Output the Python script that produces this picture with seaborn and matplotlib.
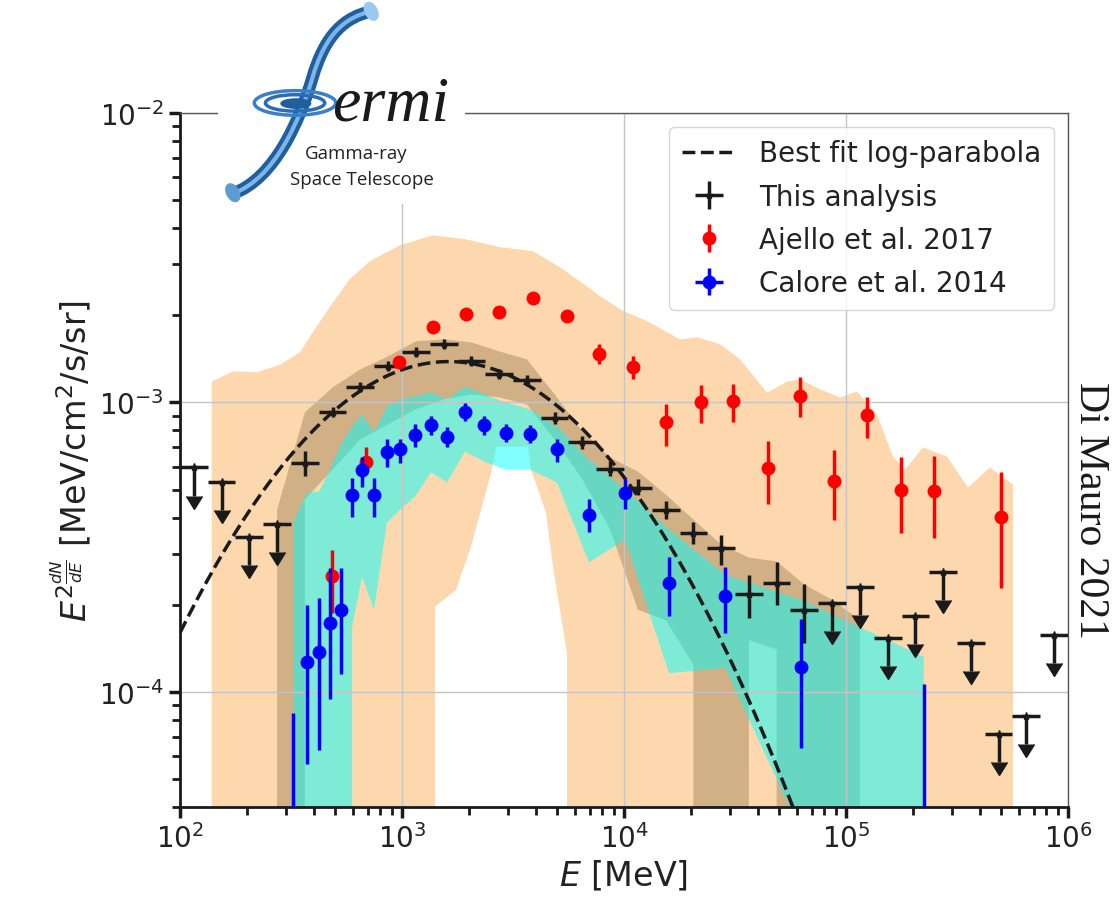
"""
Galactic Center excess spectrum: this analysis compared with Ajello et al. 2017
and Calore et al. 2014, with their systematic bands and the best-fit log-parabola.
"""
import numpy as np
import matplotlib
matplotlib.use("Agg")
import matplotlib.pyplot as plt
from matplotlib.patches import Rectangle, Ellipse, PathPatch
from matplotlib.path import Path
import seaborn as sns

# ---------------- this analysis ----------------
# energy bin edges [MeV]
bin_edges = np.array([100, 133.4, 177.8, 237.1, 316.2, 421.7, 562.3, 749.9, 1000, 1333.5,
                      1778.3, 2371.4, 3162.3, 4217, 5623.4, 7498.9, 10000, 13335, 17783,
                      23714, 31623, 42170, 56234, 74989, 100000, 133352, 177828, 237137,
                      316228, 421697, 562341, 749894, 1000000])

# detected bins
det_idx = list(range(4, 23))
det_flux = np.array([6.20e-4, 9.24e-4, 1.127e-3, 1.332e-3, 1.489e-3, 1.588e-3, 1.386e-3,
                     1.250e-3, 1.191e-3, 8.81e-4, 7.27e-4, 5.91e-4, 5.08e-4, 4.26e-4,
                     3.55e-4, 3.13e-4, 2.17e-4, 2.38e-4, 1.92e-4])
det_low = np.array([5.55e-4, 8.87e-4, 1.083e-3, 1.280e-3, 1.431e-3, 1.526e-3, 1.332e-3,
                    1.201e-3, 1.145e-3, 8.39e-4, 6.93e-4, 5.59e-4, 4.77e-4, 3.97e-4,
                    3.23e-4, 2.75e-4, 1.80e-4, 2.00e-4, 1.48e-4])
det_high = np.array([6.77e-4, 9.61e-4, 1.173e-3, 1.386e-3, 1.550e-3, 1.652e-3, 1.443e-3,
                     1.300e-3, 1.240e-3, 9.24e-4, 7.63e-4, 6.25e-4, 5.42e-4, 4.58e-4,
                     3.87e-4, 3.47e-4, 2.54e-4, 2.80e-4, 2.35e-4])

# upper limits
ul_idx = [0, 1, 2, 3, 23, 24, 25, 26, 27, 28, 29, 30, 31]
ul_flux = np.array([5.96e-4, 5.33e-4, 3.44e-4, 3.81e-4, 2.03e-4, 2.31e-4, 1.54e-4,
                    1.83e-4, 2.60e-4, 1.48e-4, 7.16e-5, 8.26e-5, 1.575e-4])

# systematic band of this analysis, bins 3..24
band_idx = list(range(3, 25))
band_hi = np.array([4.26e-4, 9.24e-4, 1.127e-3, 1.300e-3, 1.443e-3, 1.626e-3, 1.652e-3,
                    1.613e-3, 1.501e-3, 1.409e-3, 1.066e-3, 7.94e-4, 6.45e-4, 5.77e-4,
                    4.81e-4, 3.94e-4, 3.23e-4, 2.91e-4, 2.82e-4, 2.35e-4, 2.08e-4, 1.77e-4])
band_lo = np.array([0, 4.62e-4, 5.86e-4, 7.45e-4, 8.39e-4, 9.46e-4, 1.024e-3, 1.066e-3,
                    1.041e-3, 9.84e-4, 7.45e-4, 5.42e-4, 3.64e-4, 1.92e-4, 1.77e-4,
                    1.24e-4, 0, 1.51e-4, 1.40e-4, 0, 0, 0])

# best-fit log-parabola (peak energy, peak flux, curvature in log10)
fit_peak_E = 1622.0
fit_peak_flux = 1.384e-3
fit_beta = 0.64

# ---------------- Ajello et al. 2017 ----------------
aj_E = np.array([484, 688, 969, 1379, 1943, 2735, 3891, 5536, 7717, 10980, 15460, 22230,
                 30970, 44530, 62060, 88300, 124300, 176900, 249200, 499100])
aj_flux = np.array([2.520e-4, 6.249e-4, 1.375e-3, 1.818e-3, 2.016e-3, 2.048e-3, 2.291e-3,
                    1.984e-3, 1.466e-3, 1.322e-3, 8.526e-4, 1.000e-3, 1.008e-3, 5.957e-4,
                    1.049e-3, 5.372e-4, 9.017e-4, 5.000e-4, 4.960e-4, 4.031e-4])
aj_low = np.array([1.877e-4, 5.727e-4, 1.322e-3, 1.761e-3, 1.953e-3, 1.984e-3, 2.218e-3,
                   1.906e-3, 1.354e-3, 1.201e-3, 7.043e-4, 8.459e-4, 8.526e-4, 4.472e-4,
                   8.872e-4, 3.935e-4, 7.506e-4, 3.549e-4, 3.410e-4, 2.290e-4])
aj_high = np.array([3.100e-4, 6.988e-4, 1.431e-3, 1.877e-3, 2.081e-3, 2.115e-3, 2.365e-3,
                    2.065e-3, 1.588e-3, 1.443e-3, 9.842e-4, 1.145e-3, 1.154e-3, 7.329e-4,
                    1.220e-3, 6.822e-4, 1.041e-3, 6.502e-4, 6.555e-4, 5.727e-4])

# Ajello band: upper edge and lower edge (0 = no lower bound)
aj_band_E_up = np.array([139, 173, 222, 282, 347, 397, 489, 583, 718, 980, 1379, 1943, 2763,
                         3891, 5148, 6338, 7797, 9897, 12690, 17880, 21330, 27060, 33310,
                         44070, 54240, 62060, 76360, 93970, 112100, 137900, 162800, 184400,
                         222300, 285100, 354400, 445400, 565300])
aj_band_up = np.array([1.18e-3, 1.28e-3, 1.27e-3, 1.35e-3, 1.49e-3, 1.75e-3, 2.22e-3, 2.67e-3,
                       3.08e-3, 3.49e-3, 3.78e-3, 3.66e-3, 3.44e-3, 3.33e-3, 2.93e-3, 2.62e-3,
                       2.33e-3, 2.07e-3, 1.91e-3, 1.65e-3, 1.68e-3, 1.59e-3, 1.41e-3, 1.08e-3,
                       1.18e-3, 1.20e-3, 1.11e-3, 1.04e-3, 1.09e-3, 9.09e-4, 6.50e-4, 5.86e-4,
                       6.99e-4, 6.50e-4, 5.08e-4, 5.96e-4, 5.20e-4])
aj_band_E_low = np.array([139, 1351, 1408, 1751, 2046, 2543, 2651, 3695, 3812, 4453, 4788,
                          5536, 5771, 565300])
aj_band_low = np.array([0, 0, 1.97e-4, 2.25e-4, 3.18e-4, 5.86e-4, 7.04e-4, 7.04e-4, 5.86e-4,
                        4.16e-4, 2.71e-4, 1.36e-4, 0, 0])

# ---------------- Calore et al. 2014 ----------------
cal_E = np.array([323, 373, 423, 474, 531, 596, 661, 748, 855, 979, 1144, 1351, 1596, 1923,
                  2341, 2940, 3773, 4993, 6954, 10110, 15950, 28520, 62640, 224400])
cal_flux = np.array([1.0e-5, 1.27e-4, 1.375e-4, 1.733e-4, 1.922e-4, 4.805e-4, 5.818e-4,
                     4.805e-4, 6.714e-4, 6.879e-4, 7.690e-4, 8.325e-4, 7.566e-4, 9.235e-4,
                     8.325e-4, 7.813e-4, 7.750e-4, 6.879e-4, 4.097e-4, 4.883e-4, 2.383e-4,
                     2.149e-4, 1.220e-4, 1.0e-5])
cal_low = np.array([5e-6, 5.633e-5, 6.299e-5, 9.459e-5, 1.154e-4, 4.031e-4, 5.122e-4,
                    4.031e-4, 6.004e-4, 6.200e-4, 6.988e-4, 7.690e-4, 6.988e-4, 8.596e-4,
                    7.690e-4, 7.271e-4, 7.214e-4, 6.249e-4, 3.578e-4, 4.297e-4, 1.832e-4,
                    1.600e-4, 6.400e-5, 5e-6])
cal_high = np.array([8.46e-5, 2.0e-4, 2.114e-4, 2.686e-4, 2.686e-4, 5.501e-4, 6.502e-4,
                     5.501e-4, 7.447e-4, 7.447e-4, 8.393e-4, 8.945e-4, 8.193e-4, 9.920e-4,
                     8.945e-4, 8.393e-4, 8.325e-4, 7.447e-4, 4.654e-4, 5.416e-4, 2.931e-4,
                     2.707e-4, 1.789e-4, 1.066e-4])
cal_band_hi = np.array([3.84e-4, 4.88e-4, 4.92e-4, 5.86e-4, 7.16e-4, 8.26e-4, 9.09e-4,
                        7.88e-4, 9.69e-4, 1.024e-3, 1.049e-3, 1.083e-3, 1.024e-3, 1.136e-3,
                        1.066e-3, 1.0e-3, 9.46e-4, 8.26e-4, 6.35e-4, 5.0e-4, 3.64e-4,
                        2.54e-4, 2.08e-4, 1.32e-4])
cal_band_lo = np.array([0, 0, 0, 0, 0, 1.68e-4, 2.50e-4, 1.92e-4, 3.84e-4, 4.26e-4, 4.73e-4,
                        5.73e-4, 5.29e-4, 6.77e-4, 6.25e-4, 5.86e-4, 5.86e-4, 5.29e-4,
                        2.80e-4, 3.36e-4, 1.16e-4, 1.21e-4, 3.3e-5, 0])

# ---------------- plot ----------------
sns.set_theme(style="whitegrid", rc={"grid.color": "#c4c4c4", "grid.linewidth": 1.0,
                                     "text.color": "#222222", "axes.labelcolor": "#222222",
                                     "xtick.color": "#222222", "ytick.color": "#222222"})

fig, ax = plt.subplots(figsize=(11.18, 9.04), dpi=100)
fig.subplots_adjust(left=180 / 1118, right=1068 / 1118, bottom=1 - 808 / 904, top=1 - 114 / 904)
ax.set_xscale("log")
ax.set_yscale("log")
ax.set_axisbelow("line")

centers = np.sqrt(bin_edges[:-1] * bin_edges[1:])
xerr_lo = centers - bin_edges[:-1]
xerr_hi = bin_edges[1:] - centers

# systematic bands
ax.fill(np.r_[aj_band_E_up, aj_band_E_low[::-1]], np.r_[aj_band_up, aj_band_low[::-1]],
        color="#fdd8ae", lw=0, zorder=1)
ax.fill_between(centers[band_idx], band_lo, band_hi, color="#d2b085", lw=0, zorder=1)
ax.fill_between(cal_E, cal_band_lo, cal_band_hi, color="cyan", alpha=0.5, lw=0, zorder=1)

# best-fit log-parabola
E_fit = np.logspace(2, 6, 400)
fit_flux = fit_peak_flux * (E_fit / fit_peak_E) ** (-fit_beta * np.log10(E_fit / fit_peak_E))
sns.lineplot(x=E_fit, y=fit_flux, ax=ax, color="k", linestyle="--", linewidth=2.5,
             label="Best fit log-parabola", zorder=3)

# this analysis
ax.errorbar(centers[det_idx], det_flux, xerr=[xerr_lo[det_idx], xerr_hi[det_idx]],
            yerr=[det_flux - det_low, det_high - det_flux], fmt="*", color="k", ms=6,
            elinewidth=2.5, capsize=0, label="This analysis", zorder=4)
ax.errorbar(centers[ul_idx], ul_flux, xerr=[xerr_lo[ul_idx], xerr_hi[ul_idx]], fmt="*",
            color="k", ms=6, elinewidth=2.5, capsize=0, zorder=4)
ax.errorbar(centers[ul_idx], ul_flux, yerr=0.2 * ul_flux, uplims=True, fmt="none",
            color="k", ecolor="k", elinewidth=2.5, capsize=6, zorder=4)

# Ajello et al. 2017
ax.errorbar(aj_E, aj_flux, yerr=[aj_flux - aj_low, aj_high - aj_flux], fmt="o", color="red",
            ms=9, elinewidth=2.5, capsize=0, label="Ajello et al. 2017", zorder=5)

# Calore et al. 2014
ax.errorbar(cal_E, cal_flux, xerr=0.04 * cal_E, yerr=[cal_flux - cal_low, cal_high - cal_flux],
            fmt="o", color="blue", ms=9, elinewidth=2.5, capsize=0,
            label="Calore et al. 2014", zorder=6)

ax.set_xlim(1e2, 1e6)
ax.set_ylim(4e-5, 1e-2)
ax.set_xlabel("$E$ [MeV]", fontsize=24)
ax.set_ylabel(r"$E^{2\frac{dN}{dE}}$ [MeV/cm$^2$/s/sr]", fontsize=24)

ax.grid(True, which="major")
ax.grid(False, which="minor")
ax.tick_params(which="both", direction="out", left=True, bottom=True, top=False, right=False)
ax.tick_params(which="major", length=8, width=2.5, labelsize=20, color="k")
ax.tick_params(which="minor", length=6, width=2.0, color="k")
for side in ["left", "bottom"]:
    ax.spines[side].set_color("k")
    ax.spines[side].set_linewidth(2)
for side in ["top", "right"]:
    ax.spines[side].set_color("0.35")
    ax.spines[side].set_linewidth(1)

ax.legend(loc="upper right", fontsize=20, handlelength=2.0, borderpad=0.45, labelspacing=0.55)

fig.text(1090 / 1118, 1 - 510 / 904, "Di Mauro 2021", rotation=-90, fontsize=30,
         family="Liberation Serif", ha="center", va="center", color="k")

# Fermi logo
lax = fig.add_axes([218 / 1118, 1 - 205 / 904, 247 / 1118, 205 / 904], zorder=10)
lax.set_xlim(0, 1)
lax.set_ylim(0, 1)
lax.add_patch(Rectangle((0, 0), 1, 1, color="white", lw=0))
swoosh = Path([(0.057, 0.049), (0.231, 0.122), (0.332, 0.415), (0.381, 0.610),
               (0.433, 0.829), (0.514, 0.912), (0.623, 0.941)],
              [Path.MOVETO, Path.CURVE4, Path.CURVE4, Path.CURVE4,
               Path.CURVE4, Path.CURVE4, Path.CURVE4])
lax.add_patch(PathPatch(swoosh, fill=False, lw=9, color="#1f5f9e", capstyle="butt"))
lax.add_patch(PathPatch(swoosh, fill=False, lw=3, color="#7fb5e6", capstyle="butt"))
lax.add_patch(Ellipse((0.06, 0.055), 0.05, 0.09, angle=20, color="#5d9bd3"))
lax.add_patch(Ellipse((0.62, 0.94), 0.05, 0.09, angle=20, color="#9cc9f0"))
lax.add_patch(Ellipse((0.312, 0.493), 0.33, 0.12, fill=False, lw=2.5, color="#3a80c8"))
lax.add_patch(Ellipse((0.312, 0.493), 0.24, 0.08, fill=False, lw=2.5, color="#2a6db5"))
lax.add_patch(Ellipse((0.315, 0.49), 0.12, 0.045, color="#1f5f9e"))
lax.text(0.46, 0.41, "ermi", fontsize=46, style="italic", family="Liberation Serif",
         color="k", ha="left", va="baseline")
lax.text(0.35, 0.25, "Gamma-ray", fontsize=13.5, family="Open Sans", color="#222222",
         ha="left", va="center")
lax.text(0.29, 0.12, "Space Telescope", fontsize=13.5, family="Open Sans", color="#222222",
         ha="left", va="center")
lax.axis("off")

fig.savefig("out.png", dpi=100)
